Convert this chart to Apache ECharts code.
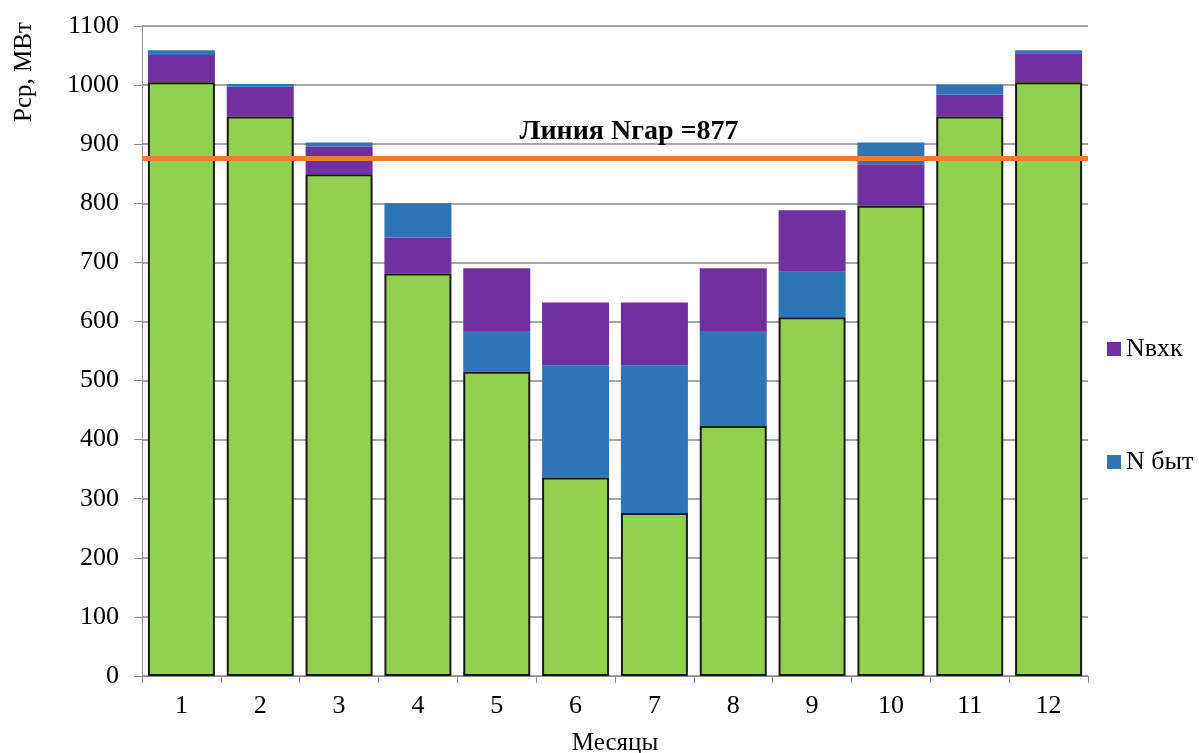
<!DOCTYPE html>
<html>
<head>
<meta charset="utf-8">
<title>Рср по месяцам</title>
<script src="https://cdn.jsdelivr.net/npm/echarts@6/dist/echarts.min.js"></script>
<style>
  html, body { margin: 0; padding: 0; background: #fff; }
  #chart { width: 1199px; height: 753px; }
</style>
</head>
<body>
<div id="chart"></div>
<script>
// Months on the category axis
const months = ['1', '2', '3', '4', '5', '6', '7', '8', '9', '10', '11', '12'];
// Base load per month, MW (green)
const nBase = [1005, 947, 849, 681, 515, 336, 276, 423, 607, 796, 947, 1005];
// Nвхк component per month, MW (purple)
const nVhk = [46, 50, 47, 61, 106, 106, 106, 106, 104, 70, 37, 49];
// N быт component per month, MW (blue)
const nByt = [8, 5, 7, 58, 69, 190, 250, 161, 77, 37, 17, 5];
// Months where N быт sits directly on the base, under Nвхк
const bytBelowMonths = ['5', '6', '7', '8', '9'];
// Guaranteed level line
const nGar = 877;
// Y axis ticks
const yMin = 0, yMax = 1100, yStep = 100;

const FONT = 'Liberation Serif';
const GREEN = '#92D050', PURPLE = '#7030A0', BLUE = '#2E75B6', ORANGE = '#ED7D31';

const bytLower = nByt.map((v, i) => bytBelowMonths.includes(months[i]) ? v : 0);
const bytUpper = nByt.map((v, i) => bytBelowMonths.includes(months[i]) ? 0 : v);

const chart = echarts.init(document.getElementById('chart'), null, { renderer: 'canvas' });

chart.setOption({
  backgroundColor: '#ffffff',
  animation: false,
  textStyle: { fontFamily: FONT, color: '#000' },
  grid: { left: 142, right: 111, top: 26, bottom: 77, containLabel: false, outerBoundsMode: 'none' },
  legend: {
    data: ['Nвхк', 'N быт'],
    orient: 'vertical',
    left: 1102,
    top: 331,
    itemWidth: 14,
    itemHeight: 14,
    itemGap: 87,
    itemTextGap: 12,
    icon: 'rect',
    selectedMode: false,
    textStyle: { fontFamily: FONT, fontSize: 26, color: '#000', lineHeight: 26 }
  },
  graphic: [{
    type: 'text',
    x: 24,
    y: 72,
    rotation: Math.PI / 2,
    style: {
      text: 'Рср, МВт',
      fontFamily: FONT,
      fontSize: 25,
      fill: '#000',
      align: 'center',
      verticalAlign: 'middle'
    }
  }],
  xAxis: {
    type: 'category',
    data: months,
    boundaryGap: true,
    name: 'Месяцы',
    nameLocation: 'middle',
    nameGap: 55,
    nameTextStyle: { fontFamily: FONT, fontSize: 25, color: '#000' },
    axisLine: { lineStyle: { color: '#8c8c8c', width: 1 } },
    axisTick: { show: true, alignWithLabel: false, length: 7, lineStyle: { color: '#8c8c8c' } },
    axisLabel: { fontFamily: FONT, fontSize: 26, color: '#000', margin: 17 }
  },
  yAxis: {
    type: 'value',
    min: yMin,
    max: yMax,
    interval: yStep,
    axisLine: { show: true, lineStyle: { color: '#8c8c8c', width: 1 } },
    axisTick: { show: true, length: 8, lineStyle: { color: '#8c8c8c' } },
    axisLabel: { fontFamily: FONT, fontSize: 26, color: '#000', margin: 23, formatter: v => String(v) },
    splitLine: { show: true, lineStyle: { color: '#a6a6a6', width: 2 } }
  },
  series: [
    {
      name: 'Nбаз',
      type: 'bar',
      stack: 'p',
      data: nBase,
      barWidth: 67,
      z: 3,
      itemStyle: { color: GREEN, borderColor: '#1a1a1a', borderWidth: 2 },
      markLine: {
        symbol: 'none',
        silent: true,
        lineStyle: { color: ORANGE, width: 5, type: 'solid' },
        label: {
          show: true,
          position: 'middle',
          formatter: 'Линия Nгар =' + nGar,
          fontFamily: FONT,
          fontSize: 28,
          fontWeight: 'bold',
          color: '#000',
          distance: 12,
          offset: [14, 0]
        },
        data: [{ yAxis: nGar }]
      }
    },
    {
      name: 'N быт',
      type: 'bar',
      stack: 'p',
      data: bytLower,
      barWidth: 67,
      itemStyle: { color: BLUE }
    },
    {
      name: 'Nвхк',
      type: 'bar',
      stack: 'p',
      data: nVhk,
      barWidth: 67,
      itemStyle: { color: PURPLE }
    },
    {
      name: 'N быт',
      type: 'bar',
      stack: 'p',
      data: bytUpper,
      barWidth: 67,
      itemStyle: { color: BLUE }
    }
  ]
});
</script>
</body>
</html>
